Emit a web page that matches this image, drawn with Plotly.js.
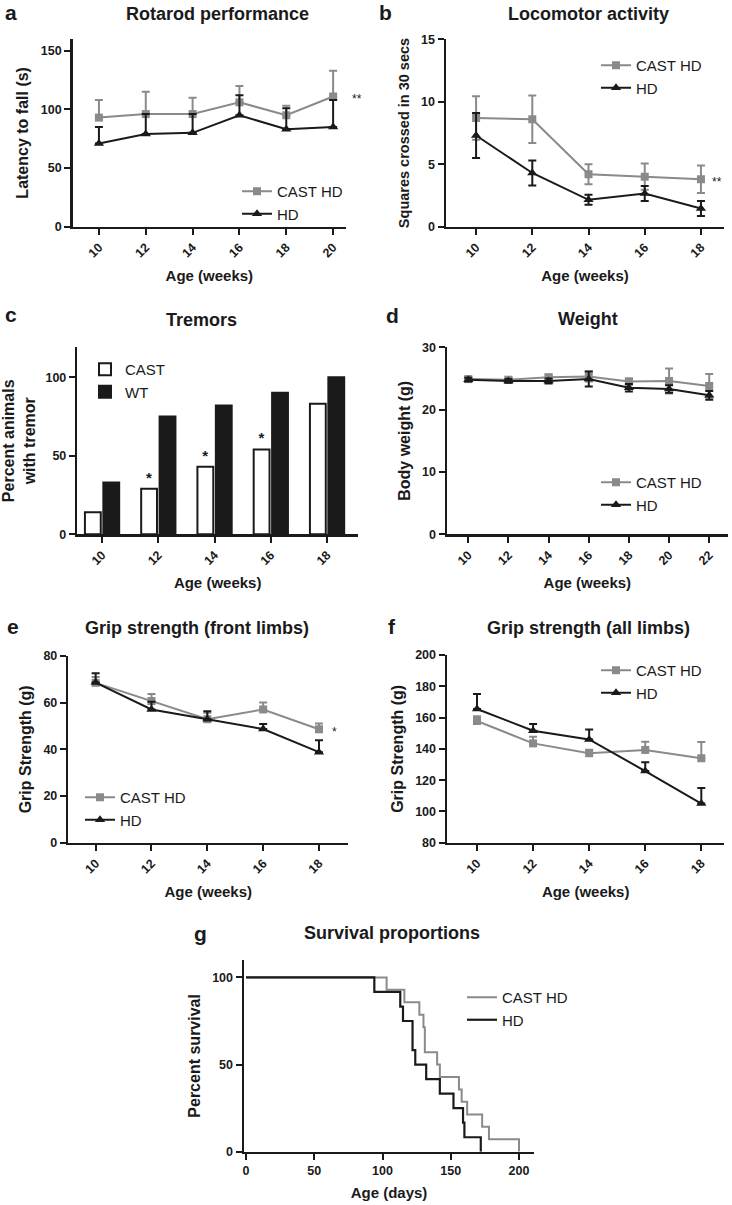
<!DOCTYPE html>
<html><head><meta charset="utf-8">
<script src="https://cdn.plot.ly/plotly-3.0.1.min.js"></script>
<style>html,body{margin:0;padding:0;background:#fff}#chart{width:732px;height:1205px}</style>
</head><body><div id="chart"></div>
<script>
// ---------- data ----------
// a: Rotarod performance
const rotarodWeeks = [10, 12, 14, 16, 18, 20];
const rotarodCast = [93, 96, 96, 106, 95, 111];
const rotarodCastErr = [15, 19, 14, 14, 8, 22];
const rotarodHD = [71, 79, 80, 95, 83, 85];
const rotarodHDErr = [14, 17, 16, 17, 18, 23];
const rotarodSig = '**';

// b: Locomotor activity
const locoWeeks = [10, 12, 14, 16, 18];
const locoCast = [8.7, 8.6, 4.2, 4.0, 3.8];
const locoCastErr = [1.75, 1.9, 0.8, 1.05, 1.1];
const locoHD = [7.3, 4.3, 2.15, 2.65, 1.45];
const locoHDErr = [1.8, 1.0, 0.4, 0.6, 0.6];
const locoSig = '**';

// c: Tremors
const tremorAges = ['10', '12', '14', '16', '18'];
const tremorCast = [14, 29, 43, 54, 83];
const tremorWT = [33, 75, 82, 90, 100];
const tremorSig = ['', '*', '*', '*', ''];

// d: Weight
const weightWeeks = [10, 12, 14, 16, 18, 20, 22];
const weightCast = [24.9, 24.8, 25.2, 25.3, 24.5, 24.6, 23.8];
const weightCastErr = [0.3, 0.3, 0.4, 0.8, 0.5, 2.0, 1.9];
const weightHD = [24.8, 24.6, 24.6, 24.9, 23.5, 23.3, 22.3];
const weightHDErr = [0.3, 0.3, 0.4, 1.2, 0.6, 0.6, 0.7];

// e: Grip strength (front limbs)
const gripWeeks = [10, 12, 14, 16, 18];
const gripFrontCast = [68.5, 60.7, 52.9, 57.1, 48.6];
const gripFrontCastErr = [2.5, 3.0, 2.8, 3.0, 2.5];
const gripFrontHD = [68.6, 57.1, 52.9, 48.7, 38.8];
const gripFrontHDErr = [4.0, 3.3, 3.4, 2.2, 5.1];
const gripFrontSig = '*';

// f: Grip strength (all limbs)
const gripAllCast = [157.8, 143.5, 137.2, 139.3, 134.0];
const gripAllCastErr = [3.0, 4.3, 2.2, 5.3, 10.3];
const gripAllHD = [165.5, 151.6, 146.0, 125.8, 105.0];
const gripAllHDErr = [9.5, 4.3, 6.4, 5.6, 10.0];

// g: Survival proportions (Kaplan-Meier steps)
const survCastDays = [0, 103, 116, 127, 130, 131, 140, 142, 156, 158, 162, 173, 178, 200];
const survCastPct = [100, 92.9, 85.7, 78.6, 71.4, 57.1, 50, 42.9, 35.7, 28.6, 21.4, 14.3, 7.1, 0];
const survHDDays = [0, 94, 113, 115, 122, 124, 132, 142, 152, 159, 160, 172];
const survHDPct = [100, 91.7, 83.3, 75, 58.3, 50, 41.7, 33.3, 25, 16.7, 8.3, 0];

// ---------- styling ----------
const W = 732, H = 1205;
const FONT = '"Liberation Sans", Arial, Helvetica, sans-serif';
const INK = '#1a1a1a';
const GREY = '#8a8a8a';
const px = x => x / W;
const py = y => 1 - y / H;

const baseAxis = {
  showline: true, linecolor: INK, linewidth: 2.5,
  ticks: 'outside', ticklen: 6, tickwidth: 2, tickcolor: INK,
  showgrid: false, zeroline: false, fixedrange: true, automargin: false,
  tickfont: {family: FONT, size: 12.5, color: INK, weight: 'bold'}
};

function xAxis(n, xd, range, tickvals, title, extra) {
  return Object.assign({}, baseAxis, {
    domain: [px(xd[0]), px(xd[1])], range: range,
    anchor: n === 1 ? 'y' : 'y' + n,
    tickmode: tickvals ? 'array' : undefined, tickvals: tickvals,
    tickangle: -45,
    title: {text: title, font: {family: FONT, size: 15, color: INK, weight: 'bold'}, standoff: 11}
  }, extra || {});
}
function yAxis(n, yd, range, tickvals, title, size, extra) {
  return Object.assign({}, baseAxis, {
    domain: [py(yd[1]), py(yd[0])], range: range,
    anchor: n === 1 ? 'x' : 'x' + n,
    tickmode: 'array', tickvals: tickvals,
    title: {text: title, font: {family: FONT, size: size, color: INK, weight: 'bold'}, standoff: 8}
  }, extra || {});
}

function series(n, legendId, name, x, y, err, symmetric, color, symbol) {
  const ax = n === 1 ? '' : String(n);
  const e = {type: 'data', array: err, color: color, thickness: 2, width: 4, visible: true};
  if (symmetric) { e.symmetric = true; } else { e.symmetric = false; e.arrayminus = err.map(() => 0); }
  return {
    type: 'scatter', mode: 'lines+markers', name: name, x: x, y: y,
    xaxis: 'x' + ax, yaxis: 'y' + ax, legend: legendId, cliponaxis: false,
    line: {color: color, width: 2},
    marker: {symbol: symbol, size: symbol === 'square' ? 8 : 9, color: color},
    error_y: e
  };
}

const traces = [
  series(1, 'legend', 'CAST HD', rotarodWeeks, rotarodCast, rotarodCastErr, false, GREY, 'square'),
  series(1, 'legend', 'HD', rotarodWeeks, rotarodHD, rotarodHDErr, false, INK, 'triangle-up'),
  series(2, 'legend2', 'CAST HD', locoWeeks, locoCast, locoCastErr, true, GREY, 'square'),
  series(2, 'legend2', 'HD', locoWeeks, locoHD, locoHDErr, true, INK, 'triangle-up'),
  {
    type: 'bar', name: 'CAST', x: tremorAges, y: tremorCast, xaxis: 'x3', yaxis: 'y3', legend: 'legend3',
    marker: {color: '#ffffff', line: {color: INK, width: 2}},
    text: tremorSig, textposition: 'outside', cliponaxis: false,
    textfont: {family: FONT, size: 15, color: INK, weight: 'bold'}
  },
  {
    type: 'bar', name: 'WT', x: tremorAges, y: tremorWT, xaxis: 'x3', yaxis: 'y3', legend: 'legend3',
    marker: {color: INK, line: {color: INK, width: 2}}
  },
  series(4, 'legend4', 'CAST HD', weightWeeks, weightCast, weightCastErr, true, GREY, 'square'),
  series(4, 'legend4', 'HD', weightWeeks, weightHD, weightHDErr, true, INK, 'triangle-up'),
  series(5, 'legend5', 'CAST HD', gripWeeks, gripFrontCast, gripFrontCastErr, false, GREY, 'square'),
  series(5, 'legend5', 'HD', gripWeeks, gripFrontHD, gripFrontHDErr, false, INK, 'triangle-up'),
  series(6, 'legend6', 'CAST HD', gripWeeks, gripAllCast, gripAllCastErr, false, GREY, 'square'),
  series(6, 'legend6', 'HD', gripWeeks, gripAllHD, gripAllHDErr, false, INK, 'triangle-up'),
  {
    type: 'scatter', mode: 'lines', name: 'CAST HD', x: survCastDays, y: survCastPct,
    xaxis: 'x7', yaxis: 'y7', legend: 'legend7', cliponaxis: false,
    line: {color: GREY, width: 2, shape: 'hv'}
  },
  {
    type: 'scatter', mode: 'lines', name: 'HD', x: survHDDays, y: survHDPct,
    xaxis: 'x7', yaxis: 'y7', legend: 'legend7', cliponaxis: false,
    line: {color: INK, width: 2.2, shape: 'hv'}
  }
];

function legendAt(left, top) {
  return {
    x: px(left), y: py(top), xanchor: 'left', yanchor: 'top',
    bgcolor: 'rgba(0,0,0,0)', borderwidth: 0, tracegroupgap: 0,
    font: {family: FONT, size: 15, color: INK}
  };
}

function label(text, cx, cy, size, weight) {
  return {
    text: text, xref: 'paper', yref: 'paper', x: px(cx), y: py(cy),
    xanchor: 'center', yanchor: 'middle', showarrow: false,
    font: {family: FONT, size: size, color: INK, weight: weight || 'bold'}
  };
}

const last = arr => arr[arr.length - 1];

const annotations = [
  label('a', 11, 13, 21), label('Rotarod performance', 217, 14, 18),
  label('b', 385, 13, 21), label('Locomotor activity', 588, 14, 18),
  label('c', 11, 315, 21), label('Tremors', 202, 320, 18),
  label('d', 392, 316, 21), label('Weight', 588, 319, 18),
  label('e', 13, 626, 21), label('Grip strength (front limbs)', 197, 628, 18),
  label('f', 392, 626, 21), label('Grip strength (all limbs)', 588, 628, 18),
  label('g', 200, 933, 21), label('Survival proportions', 392, 933, 18),
  {text: rotarodSig, x: last(rotarodWeeks), y: last(rotarodCast), xref: 'x', yref: 'y',
   xshift: 24, yshift: -3, showarrow: false, font: {family: FONT, size: 12, color: INK}},
  {text: locoSig, x: last(locoWeeks), y: last(locoCast), xref: 'x2', yref: 'y2',
   xshift: 16, yshift: -3, showarrow: false, font: {family: FONT, size: 12, color: INK}},
  {text: gripFrontSig, x: last(gripWeeks), y: last(gripFrontCast), xref: 'x5', yref: 'y5',
   xshift: 16, yshift: -3, showarrow: false, font: {family: FONT, size: 12, color: INK}}
];

const layout = {
  width: W, height: H,
  margin: {l: 0, r: 0, t: 0, b: 0, pad: 0},
  paper_bgcolor: '#ffffff', plot_bgcolor: '#ffffff',
  font: {family: FONT, color: INK},
  barmode: 'group', bargap: 0.345, bargroupgap: 0.14,
  xaxis: xAxis(1, [72.7, 346], [8.88, 20.55], rotarodWeeks, 'Age (weeks)'),
  yaxis: yAxis(1, [39, 226.7], [0, 160], [0, 50, 100, 150], 'Latency to fall (s)', 16),
  xaxis2: xAxis(2, [446, 724], [8.93, 18.82], locoWeeks, 'Age (weeks)'),
  yaxis2: yAxis(2, [39.3, 226.7], [0, 15], [0, 5, 10, 15], 'Squares crossed in 30 secs', 14.5),
  xaxis3: xAxis(3, [77.3, 358], [-0.44, 4.55], null, 'Age (weeks)', {type: 'category'}),
  yaxis3: yAxis(3, [347.3, 534.3], [0, 119], [0, 50, 100], 'Percent animals<br>with tremor', 16),
  xaxis4: xAxis(4, [447, 727.7], [8.94, 22.92], weightWeeks, 'Age (weeks)'),
  yaxis4: yAxis(4, [347.3, 534.3], [0, 30], [0, 10, 20, 30], 'Body weight (g)', 16),
  xaxis5: xAxis(5, [68.3, 348.3], [9.02, 19.05], gripWeeks, 'Age (weeks)'),
  yaxis5: yAxis(5, [656, 842.7], [0, 80], [0, 20, 40, 60, 80], 'Grip Strength (g)', 16),
  xaxis6: xAxis(6, [447, 724.3], [8.93, 18.82], gripWeeks, 'Age (weeks)'),
  yaxis6: yAxis(6, [655, 842.7], [80, 200], [80, 100, 120, 140, 160, 180, 200], 'Grip Strength (g)', 16),
  xaxis7: xAxis(7, [244, 534], [-1.5, 211], [0, 50, 100, 150, 200], 'Age (days)', {tickangle: 0}),
  yaxis7: yAxis(7, [960, 1151.7], [0, 110], [0, 50, 100], 'Percent survival', 16),
  legend: legendAt(237, 175),
  legend2: legendAt(596, 49),
  legend3: legendAt(85, 353),
  legend4: legendAt(596, 466),
  legend5: legendAt(80, 781),
  legend6: legendAt(596, 654),
  legend7: legendAt(462, 981),
  showlegend: true,
  annotations: annotations
};

Plotly.newPlot('chart', traces, layout, {staticPlot: true, displayModeBar: false});
</script>
</body></html>
